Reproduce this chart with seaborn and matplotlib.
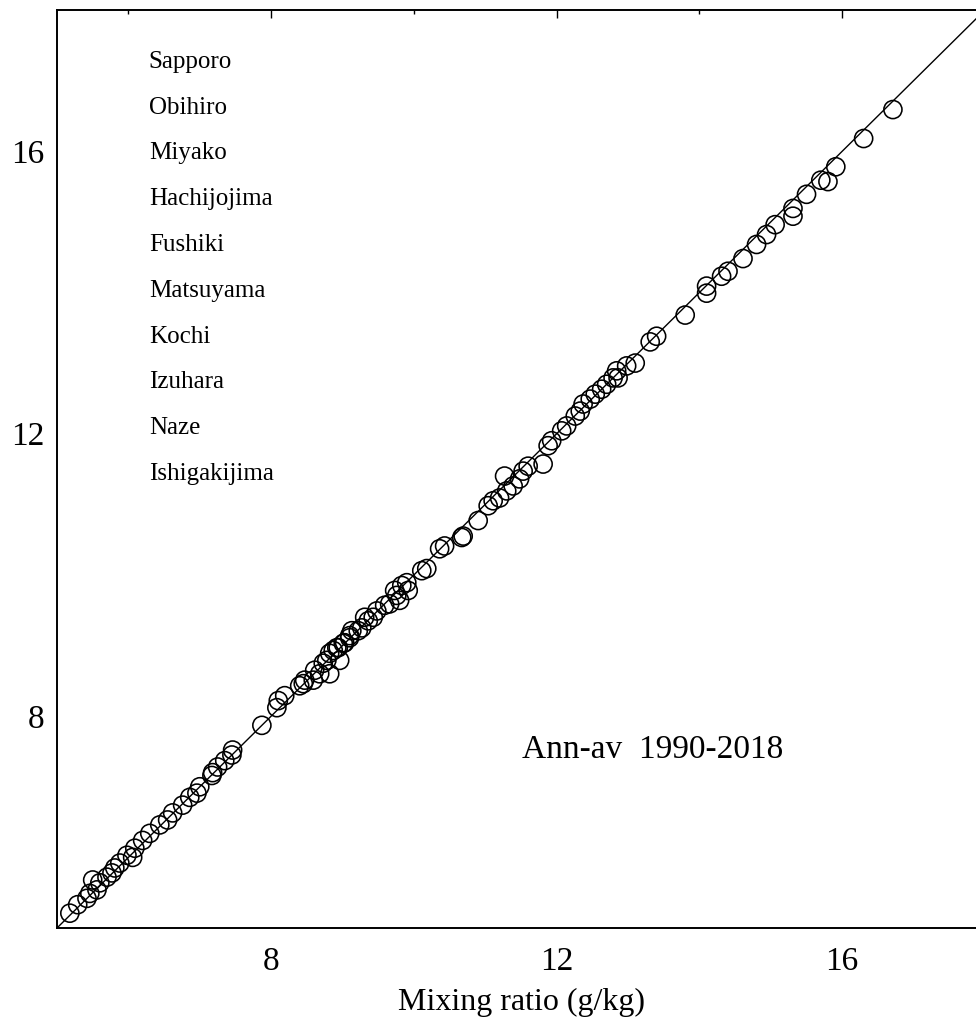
import numpy as np
import pandas as pd
import matplotlib
matplotlib.use("Agg")
import matplotlib.pyplot as plt
import seaborn as sns
from matplotlib.ticker import MultipleLocator

# ---- data ----
x_vals = [5.18, 5.29, 5.42, 5.46, 5.50, 5.56, 5.60, 5.70, 5.77, 5.81,
          5.88, 5.98, 6.06, 6.09, 6.20, 6.30, 6.44, 6.55, 6.62, 6.76,
          6.86, 6.96, 7.00, 7.17, 7.18, 7.25, 7.35, 7.45, 7.46, 7.87,
          8.08, 8.10, 8.19, 8.40, 8.45, 8.59, 8.68, 8.73, 8.78, 8.82,
          8.92, 9.01, 9.10, 8.82, 8.96, 9.03, 9.10, 9.22, 9.27, 9.36,
          9.43, 9.59, 9.66, 9.80, 9.73, 9.83, 9.90, 10.11, 10.18, 10.36,
          10.43, 10.67, 10.69, 10.90, 11.04, 11.11, 11.20, 11.30, 11.39, 11.48,
          11.27, 11.53, 11.60, 11.81, 11.88, 11.93, 12.07, 12.14, 12.26, 12.33,
          12.37, 12.47, 12.54, 12.63, 12.70, 12.79, 12.84, 12.86, 12.98, 13.10,
          13.31, 13.40, 13.80, 14.10, 14.10, 14.31, 14.40, 14.61, 14.80, 14.94,
          15.06, 15.31, 15.31, 15.50, 15.70, 15.80, 15.91, 16.30, 16.71,
          9.76, 9.48, 9.31, 9.13, 8.94, 8.61, 8.47, 9.92, 8.87]
y_vals = [5.21, 5.33, 5.42, 5.49, 5.68, 5.54, 5.64, 5.72, 5.78, 5.85,
          5.92, 6.03, 6.00, 6.13, 6.24, 6.34, 6.46, 6.53, 6.63, 6.74,
          6.85, 6.91, 7.00, 7.16, 7.20, 7.28, 7.37, 7.45, 7.52, 7.87,
          8.12, 8.22, 8.29, 8.43, 8.46, 8.51, 8.60, 8.75, 8.79, 8.89,
          8.97, 9.03, 9.11, 8.60, 8.79, 9.04, 9.14, 9.21, 9.25, 9.35,
          9.40, 9.57, 9.59, 9.64, 9.78, 9.85, 9.89, 10.06, 10.09, 10.37,
          10.41, 10.53, 10.55, 10.77, 10.98, 11.05, 11.09, 11.19, 11.26, 11.36,
          11.40, 11.47, 11.54, 11.57, 11.83, 11.90, 12.04, 12.11, 12.25, 12.32,
          12.42, 12.49, 12.56, 12.63, 12.70, 12.79, 12.89, 12.79, 12.96, 13.00,
          13.30, 13.38, 13.68, 13.99, 14.09, 14.23, 14.30, 14.48, 14.68, 14.82,
          14.96, 15.19, 15.08, 15.39, 15.59, 15.57, 15.78, 16.18, 16.59,
          9.71, 9.49, 9.40, 9.21, 8.97, 8.65, 8.51, 9.78, 8.93]
diag_vals = [5, 18]
stations = ["Sapporo", "Obihiro", "Miyako", "Hachijojima", "Fushiki",
            "Matsuyama", "Kochi", "Izuhara", "Naze", "Ishigakijima"]
major_ticks = [8, 12, 16]
period_label = "Ann-av  1990-2018"
x_label = "Mixing ratio (g/kg)"

df = pd.DataFrame({"x": x_vals, "y": y_vals})

sns.set_theme(style="white")
plt.rcParams["font.family"] = ["Liberation Serif", "DejaVu Serif"]

fig = plt.figure(figsize=(9.76, 10.22), dpi=100)
ax = fig.add_axes([57 / 976, (1022 - 928) / 1022, 928 / 976, 918 / 1022])

ax.plot(diag_vals, diag_vals, color="black", lw=1.0, zorder=1)
sns.scatterplot(data=df, x="x", y="y", ax=ax, marker="o", s=170,
                facecolors="none", edgecolor="black", linewidth=1.15, zorder=2)

ax.set_xlim(5, 18)
ax.set_ylim(5, 18)
ax.xaxis.set_major_locator(plt.FixedLocator(major_ticks))
ax.yaxis.set_major_locator(plt.FixedLocator(major_ticks))
ax.xaxis.set_minor_locator(MultipleLocator(2))
ax.yaxis.set_minor_locator(MultipleLocator(2))
ax.set_xticklabels([str(t) for t in major_ticks])
ax.set_yticklabels([str(t) for t in major_ticks])

ax.tick_params(which="both", direction="in", top=True, right=True,
               colors="black", labelsize=24)
ax.tick_params(axis="x", which="major", length=6, width=1, pad=13)
ax.tick_params(axis="y", which="major", length=6, width=1, pad=9)
ax.tick_params(which="minor", length=3, width=1)
for sp in ax.spines.values():
    sp.set_color("black")
    sp.set_linewidth(1.4)

ax.set_xlabel(x_label, fontsize=23, color="black", labelpad=8)
ax.set_ylabel("")

for i, name in enumerate(stations):
    ax.text(0.099, 0.937 - 0.0499 * i, name, transform=ax.transAxes,
            fontsize=18, color="black", va="baseline", ha="left")

ax.text(0.501, 0.185, period_label, transform=ax.transAxes,
        fontsize=24, color="black", va="baseline", ha="left")

fig.savefig("out.png", dpi=100)
